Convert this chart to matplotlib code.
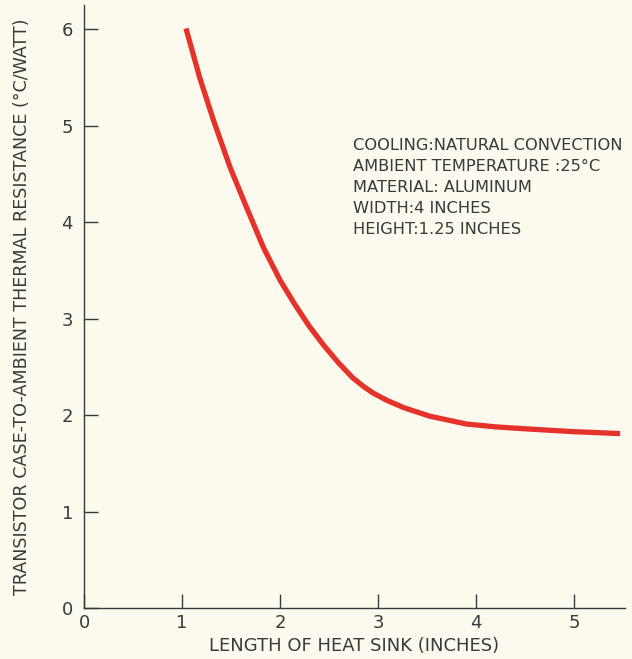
import matplotlib.pyplot as plt

# thermal resistance vs heat sink length
length_in = [1.04, 1.18, 1.32, 1.49, 1.66, 1.83, 2.0, 2.15, 2.3, 2.45, 2.6, 2.74, 2.85, 2.95,
             3.09, 3.26, 3.53, 3.9, 4.2, 4.5, 4.75, 5.0, 5.25, 5.47]
resistance = [6.01, 5.5, 5.06, 4.57, 4.15, 3.74, 3.40, 3.15, 2.92, 2.72, 2.54, 2.39, 2.30, 2.23,
              2.155, 2.08, 1.99, 1.91, 1.88, 1.86, 1.845, 1.83, 1.82, 1.81]

x_ticks = [0, 1, 2, 3, 4, 5]
y_ticks = [0, 1, 2, 3, 4, 5, 6]

notes = ["COOLING:NATURAL CONVECTION",
         "AMBIENT TEMPERATURE :25\u00b0C",
         "MATERIAL: ALUMINUM",
         "WIDTH:4 INCHES",
         "HEIGHT:1.25 INCHES"]

bg = "#fcfaee"
ink = "#3a3a3a"

fig = plt.figure(figsize=(6.32, 6.59), dpi=100, facecolor=bg)
ax = fig.add_axes([0.133, 0.077, 0.856, 0.915], facecolor=bg)

ax.plot(length_in, resistance, color="#e5322b", linewidth=3.8,
        solid_capstyle="butt", solid_joinstyle="round")

ax.set_xlim(0, 5.52)
ax.set_ylim(0, 6.25)
ax.set_xticks(x_ticks)
ax.set_yticks(y_ticks)
ax.tick_params(direction="in", length=10, width=1, colors=ink, labelsize=13)
ax.tick_params(axis="y", pad=8)
ax.tick_params(axis="x", pad=4)

for s in ["top", "right"]:
    ax.spines[s].set_visible(False)
for s in ["left", "bottom"]:
    ax.spines[s].set_color(ink)
    ax.spines[s].set_linewidth(1)

ax.set_xlabel("LENGTH OF HEAT SINK (INCHES)", fontsize=13, color=ink, labelpad=4)
ax.set_ylabel("TRANSISTOR CASE-TO-AMBIENT THERMAL RESISTANCE (\u00b0C/WATT)",
              fontsize=12.6, color=ink, labelpad=22)

for i, line in enumerate(notes):
    ax.text(2.74, 4.80 - i * 0.218, line, fontsize=11.7, color=ink, va="center", ha="left")

fig.savefig("out.png", dpi=100, facecolor=bg)
